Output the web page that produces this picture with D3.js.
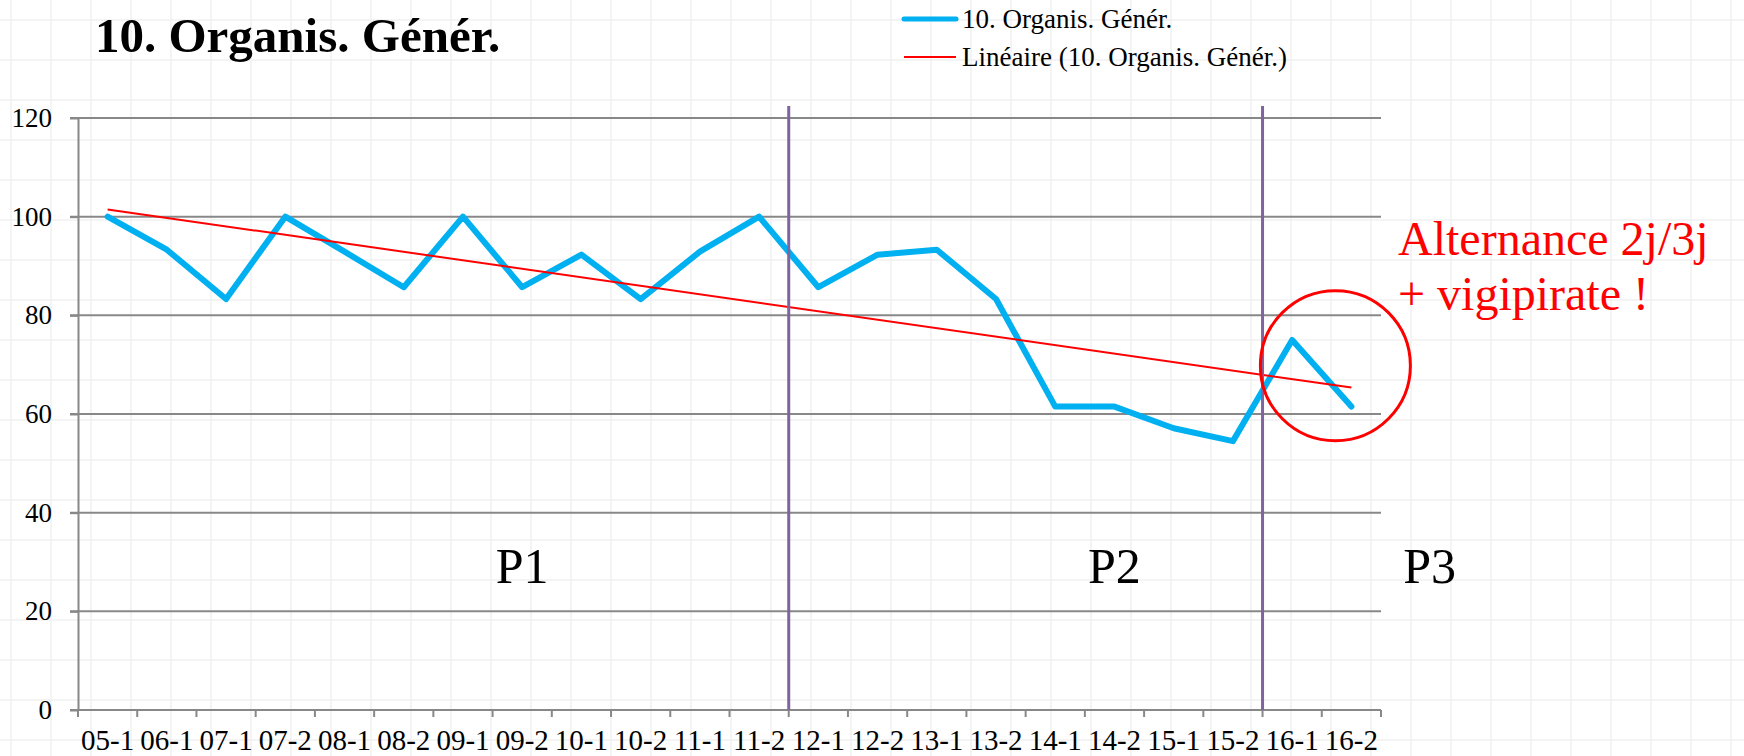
<!DOCTYPE html>
<html>
<head>
<meta charset="UTF-8">
<title>10. Organis. Génér.</title>
<script src="https://cdn.jsdelivr.net/npm/d3@7"></script>
<style>
  body { margin: 0; background: #fff; }
  svg { display: block; font-family: "Liberation Serif", serif; }
</style>
</head>
<body>
<div id="chart"></div>
<script>
// data
var categories = ["05-1","06-1","07-1","07-2","08-1","08-2","09-1","09-2","10-1","10-2","11-1",
                  "11-2","12-1","12-2","13-1","13-2","14-1","14-2","15-1","15-2","16-1","16-2"];
var values = [100, 93.3, 83.3, 100, 92.9, 85.7, 100, 85.7, 92.3, 83.3, 92.9,
              100, 85.7, 92.3, 93.3, 83.3, 61.5, 61.5, 57.1, 54.5, 75, 61.5];
var yTicks = [0, 20, 40, 60, 80, 100, 120];
var seriesName = "10. Organis. Génér.";
var trendName = "Linéaire (10. Organis. Génér.)";
var periodStarts = ["12-1", "16-1"];
var periodNames = ["P1", "P2", "P3"];
var noteLines = ["Alternance 2j/3j", "+ vigipirate !"];

(function(){
    var W = 1744, H = 756;
    var mLeft = 78, mRight = 1381, mTop = 118, mBottom = 710;

    var svg = d3.select("#chart").append("svg")
        .attr("width", W).attr("height", H);

    // spreadsheet cell background
    var bg = svg.append("g");
    bg.selectAll(".vx").data(d3.range(11, W, 40)).enter().append("line")
        .attr("x1", function(d){return d}).attr("x2", function(d){return d})
        .attr("y1", 0).attr("y2", H)
        .attr("stroke", "#f1f1f1").attr("stroke-width", 1.5);
    bg.selectAll(".hy").data(d3.range(20, H, 40)).enter().append("line")
        .attr("y1", function(d){return d}).attr("y2", function(d){return d})
        .attr("x1", 0).attr("x2", W)
        .attr("stroke", "#f1f1f1").attr("stroke-width", 1.5);

    var x = d3.scaleBand().domain(categories).range([mLeft, mRight]).padding(0);
    var y = d3.scaleLinear().domain([0, 120]).range([mBottom, mTop]);
    var cx = function(c){ return x(c) + x.bandwidth()/2; };
    var xi = d3.scaleLinear().domain([0, categories.length]).range([mLeft, mRight]);

    // gridlines
    svg.append("g").selectAll("line").data(yTicks).enter().append("line")
        .attr("x1", mLeft - 8).attr("x2", mRight)
        .attr("y1", function(d){return y(d)}).attr("y2", function(d){return y(d)})
        .attr("stroke", "#888").attr("stroke-width", 2);

    // y axis
    var ya = svg.append("g").attr("transform", "translate(" + mLeft + ",0)")
        .call(d3.axisLeft(y).tickValues(yTicks).tickSizeInner(8).tickSizeOuter(0).tickPadding(18));
    ya.select(".domain").attr("stroke", "#888").attr("stroke-width", 2);
    ya.selectAll(".tick line").attr("stroke", "#888").attr("stroke-width", 2);
    ya.selectAll("text").attr("font-family", "Liberation Serif").attr("font-size", 27).attr("fill", "#000");

    // x axis: labels centred in bands, ticks on the band edges
    var xa = svg.append("g").attr("transform", "translate(0," + mBottom + ")")
        .call(d3.axisBottom(x).tickSize(0).tickPadding(19));
    xa.select(".domain").remove();
    xa.selectAll("text").attr("font-family", "Liberation Serif").attr("font-size", 29).attr("fill", "#000");
    svg.append("line").attr("x1", mLeft).attr("x2", mRight).attr("y1", mBottom).attr("y2", mBottom)
        .attr("stroke", "#888").attr("stroke-width", 2);
    svg.append("g").selectAll("line").data(d3.range(categories.length + 1)).enter().append("line")
        .attr("x1", function(d){return xi(d)}).attr("x2", function(d){return xi(d)})
        .attr("y1", mBottom).attr("y2", mBottom + 7)
        .attr("stroke", "#888").attr("stroke-width", 2);

    // linear trend (least squares, like the spreadsheet trendline)
    var n = values.length, mx = (n - 1) / 2, my = d3.mean(values);
    var sxy = d3.sum(values, function(v, i){ return (i - mx) * (v - my); });
    var sxx = d3.sum(values, function(v, i){ return (i - mx) * (i - mx); });
    var slope = sxy / sxx, icpt = my - slope * mx;

    var line = d3.line()
        .x(function(d, i){ return cx(categories[i]); })
        .y(function(d){ return y(d); });

    svg.append("path").datum(values)
        .attr("d", line)
        .attr("fill", "none").attr("stroke", "#00b0f0").attr("stroke-width", 6)
        .attr("stroke-linejoin", "round").attr("stroke-linecap", "round");

    svg.append("line")
        .attr("x1", cx(categories[0])).attr("y1", y(icpt))
        .attr("x2", cx(categories[n - 1])).attr("y2", y(icpt + slope * (n - 1)))
        .attr("stroke", "#ff0000").attr("stroke-width", 2);

    // period separators
    svg.append("g").selectAll("line").data(periodStarts).enter().append("line")
        .attr("x1", function(d){return x(d)}).attr("x2", function(d){return x(d)})
        .attr("y1", mTop - 12).attr("y2", mBottom)
        .attr("stroke", "#8064a2").attr("stroke-width", 3);

    // period names
    var periodAt = [7.5, 17.5, 22.82];
    svg.append("g").selectAll("text").data(periodNames).enter().append("text")
        .attr("x", function(d, i){ return xi(periodAt[i]); })
        .attr("y", 583)
        .attr("text-anchor", "middle")
        .attr("font-size", 50).attr("fill", "#000")
        .text(function(d){return d});

    // highlight circle and note
    svg.append("circle")
        .attr("cx", xi(21.23)).attr("cy", y(69.8)).attr("r", 75)
        .attr("fill", "none").attr("stroke", "#ff0000").attr("stroke-width", 3);

    svg.append("g").selectAll("text").data(noteLines).enter().append("text")
        .attr("x", 1398).attr("y", function(d, i){ return 255 + i * 55; })
        .attr("font-size", 48).attr("fill", "#ff0000")
        .text(function(d){return d});

    // title
    svg.append("text").attr("x", 95).attr("y", 52)
        .attr("font-size", 49).attr("font-weight", "bold").attr("fill", "#000")
        .text(seriesName);

    // legend
    var legend = svg.append("g");
    var items = [{name: seriesName, color: "#00b0f0", w: 5},
                 {name: trendName, color: "#ff0000", w: 2}];
    items.forEach(function(it, i){
        var yy = 19 + i * 38;
        legend.append("line").attr("x1", 904).attr("x2", 956).attr("y1", yy).attr("y2", yy)
            .attr("stroke", it.color).attr("stroke-width", it.w).attr("stroke-linecap", i == 0 ? "round" : "butt");
        legend.append("text").attr("x", 962).attr("y", yy + 9)
            .attr("font-size", 27).attr("fill", "#000").text(it.name);
    });
})();
</script>
</body>
</html>
